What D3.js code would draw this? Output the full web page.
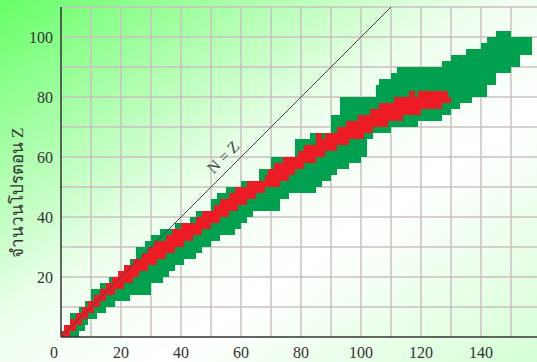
<!DOCTYPE html>
<html>
<head>
<meta charset="utf-8">
<script src="https://cdn.jsdelivr.net/npm/d3@7"></script>
<style>
  body { margin: 0; }
  svg { display: block; }
</style>
</head>
<body>
<div id="chart"></div>
<script>
// each row covers Z .. Z+2 (proton number), values are neutron numbers N
var zRows   = [0,2,4,6,8,10,12,14,16,18,20,22,24,26,28,30,32,34,36,38,40,42,44,46,48,50,52,54,56,58,60,62,64,66,68,70,72,74,76,78,80,82,84,86,88,90,92,94,96,98,100];
// unstable nuclei band (green)
var greenLo = [0,2,3,3,6,8,10,10,13,16,19,21,23,25,25,28,30,33,38,43,45,50,50,52,55,60,66,66,70,70,78,78,78,83,90,90,90,93,93,93,105,105,106,110,112,127,130,135,140,142,145];
var greenHi = [6,8,9,12,15,18,23,30,30,34,36,38,41,45,47,50,53,58,60,62,64,73,73,76,85,87,90,92,96,100,102,102,102,104,110,119,127,130,133,137,142,142,145,145,150,153,153,157,157,157,150];
// stable nuclei band (red), null = none
var redLo   = [0,1,3,5,7,9,11,13,15,17,19,21,24,27,29,31,35,37,40,45,47,51,53,56,58,62,68,69,71,74,79,81,85,88,92,95,99,103,106,111,119,null,null,null,null,null,null,null,null,null,null];
var redHi   = [3,5,7,9,11,13,15,18,21,24,26,29,32,35,38,41,44,47,50,53,56,59,62,65,68,73,76,78,81,85,88,92,96,101,104,109,114,120,127,130,129,null,null,null,null,null,null,null,null,null,null];
// stray stable cells beside the main band [N, Z]
var redSpotN = [116, 85];
var redSpotZ = [80, 66];

var xTicks = [0,20,40,60,80,100,120,140];
var yTicks = [20,40,60,80,100];
var gridX  = [10,20,30,40,50,60,70,80,90,100,110,120,130,140,150];
var gridY  = [10,20,30,40,50,60,70,80,90,100,110];

var yTitle = "จำนวนโปรตอน Z";
var lineLabel = "N = Z";

var width = 537, height = 362;

var x = d3.scaleLinear().domain([0, 160]).range([61, 541]);
var y = d3.scaleLinear().domain([0, 110]).range([337, 7]);

var svg = d3.select("#chart").append("svg")
  .attr("width", width)
  .attr("height", height);

// background
var grad = svg.append("defs").append("linearGradient")
  .attr("id", "bg")
  .attr("x1", 0).attr("y1", 0).attr("x2", 1).attr("y2", 1);
grad.append("stop").attr("offset", 0).attr("stop-color", "#66ff66");
grad.append("stop").attr("offset", 0.45).attr("stop-color", "#eeffee");
grad.append("stop").attr("offset", 0.65).attr("stop-color", "#ffffff");
grad.append("stop").attr("offset", 1).attr("stop-color", "#d4ffd4");

svg.append("rect")
  .attr("width", width).attr("height", height)
  .attr("fill", "url(#bg)");

// grid
svg.append("g").selectAll("line")
  .data(gridX).enter().append("line")
  .attr("x1", function(d) { return x(d); })
  .attr("x2", function(d) { return x(d); })
  .attr("y1", y(0)).attr("y2", y(110))
  .attr("stroke", "#cac1c0").attr("stroke-width", 1.5);

svg.append("g").selectAll("line")
  .data(gridY).enter().append("line")
  .attr("x1", x(0)).attr("x2", width)
  .attr("y1", function(d) { return y(d); })
  .attr("y2", function(d) { return y(d); })
  .attr("stroke", "#cac1c0").attr("stroke-width", 1.5);

// bands
var rows = zRows.map(function(z, i) {
  return { z: z, gLo: greenLo[i], gHi: greenHi[i], rLo: redLo[i], rHi: redHi[i] };
});

svg.append("g").selectAll("rect")
  .data(rows).enter().append("rect")
  .attr("x", function(d) { return x(d.gLo); })
  .attr("width", function(d) { return x(d.gHi) - x(d.gLo); })
  .attr("y", function(d) { return y(d.z + 2); })
  .attr("height", function(d) { return y(d.z) - y(d.z + 2); })
  .attr("fill", "#00a14e")
  .attr("shape-rendering", "crispEdges");

svg.append("g").selectAll("rect")
  .data(rows.filter(function(d) { return d.rLo != null; })).enter().append("rect")
  .attr("x", function(d) { return x(d.rLo); })
  .attr("width", function(d) { return x(d.rHi) - x(d.rLo); })
  .attr("y", function(d) { return y(d.z + 2); })
  .attr("height", function(d) { return y(d.z) - y(d.z + 2); })
  .attr("fill", "#ed1c24")
  .attr("shape-rendering", "crispEdges");

svg.append("g").selectAll("rect")
  .data(redSpotN).enter().append("rect")
  .attr("x", function(d) { return x(d); })
  .attr("width", x(2) - x(0))
  .attr("y", function(d, i) { return y(redSpotZ[i] + 2); })
  .attr("height", y(0) - y(2))
  .attr("fill", "#ed1c24")
  .attr("shape-rendering", "crispEdges");

// N = Z line
svg.append("line")
  .attr("x1", x(0)).attr("y1", y(0))
  .attr("x2", x(110)).attr("y2", y(110))
  .attr("stroke", "#444").attr("stroke-width", 1);

svg.append("text")
  .attr("transform", "translate(" + x(54) + "," + y(60) + ") rotate(-45)")
  .attr("text-anchor", "middle")
  .attr("dy", "0.35em")
  .style("font-family", "Liberation Serif, serif")
  .style("font-size", "16px")
  .attr("fill", "#444")
  .text(lineLabel);

// axes
svg.append("line")
  .attr("x1", x(0)).attr("x2", x(0))
  .attr("y1", y(0)).attr("y2", y(110))
  .attr("stroke", "#333").attr("stroke-width", 1.5);
svg.append("line")
  .attr("x1", x(0)).attr("x2", width)
  .attr("y1", y(0)).attr("y2", y(0))
  .attr("stroke", "#333").attr("stroke-width", 1.5);

svg.append("g").selectAll("text")
  .data(xTicks).enter().append("text")
  .attr("x", function(d) { return d === 0 ? x(d) - 7 : x(d); })
  .attr("y", 358)
  .attr("text-anchor", "middle")
  .style("font-family", "Liberation Serif, serif")
  .style("font-size", "16px")
  .attr("fill", "#333")
  .text(function(d) { return d; });

svg.append("g").selectAll("text")
  .data(yTicks).enter().append("text")
  .attr("x", 53)
  .attr("y", function(d) { return y(d); })
  .attr("dy", "0.35em")
  .attr("text-anchor", "end")
  .style("font-family", "Liberation Serif, serif")
  .style("font-size", "16px")
  .attr("fill", "#333")
  .text(function(d) { return d; });

svg.append("text")
  .attr("transform", "translate(17,193) rotate(-90)")
  .attr("text-anchor", "middle")
  .attr("dy", "0.35em")
  .style("font-family", "Liberation Serif, serif")
  .style("font-size", "17px")
  .attr("fill", "#333")
  .text(yTitle);
</script>
</body>
</html>
